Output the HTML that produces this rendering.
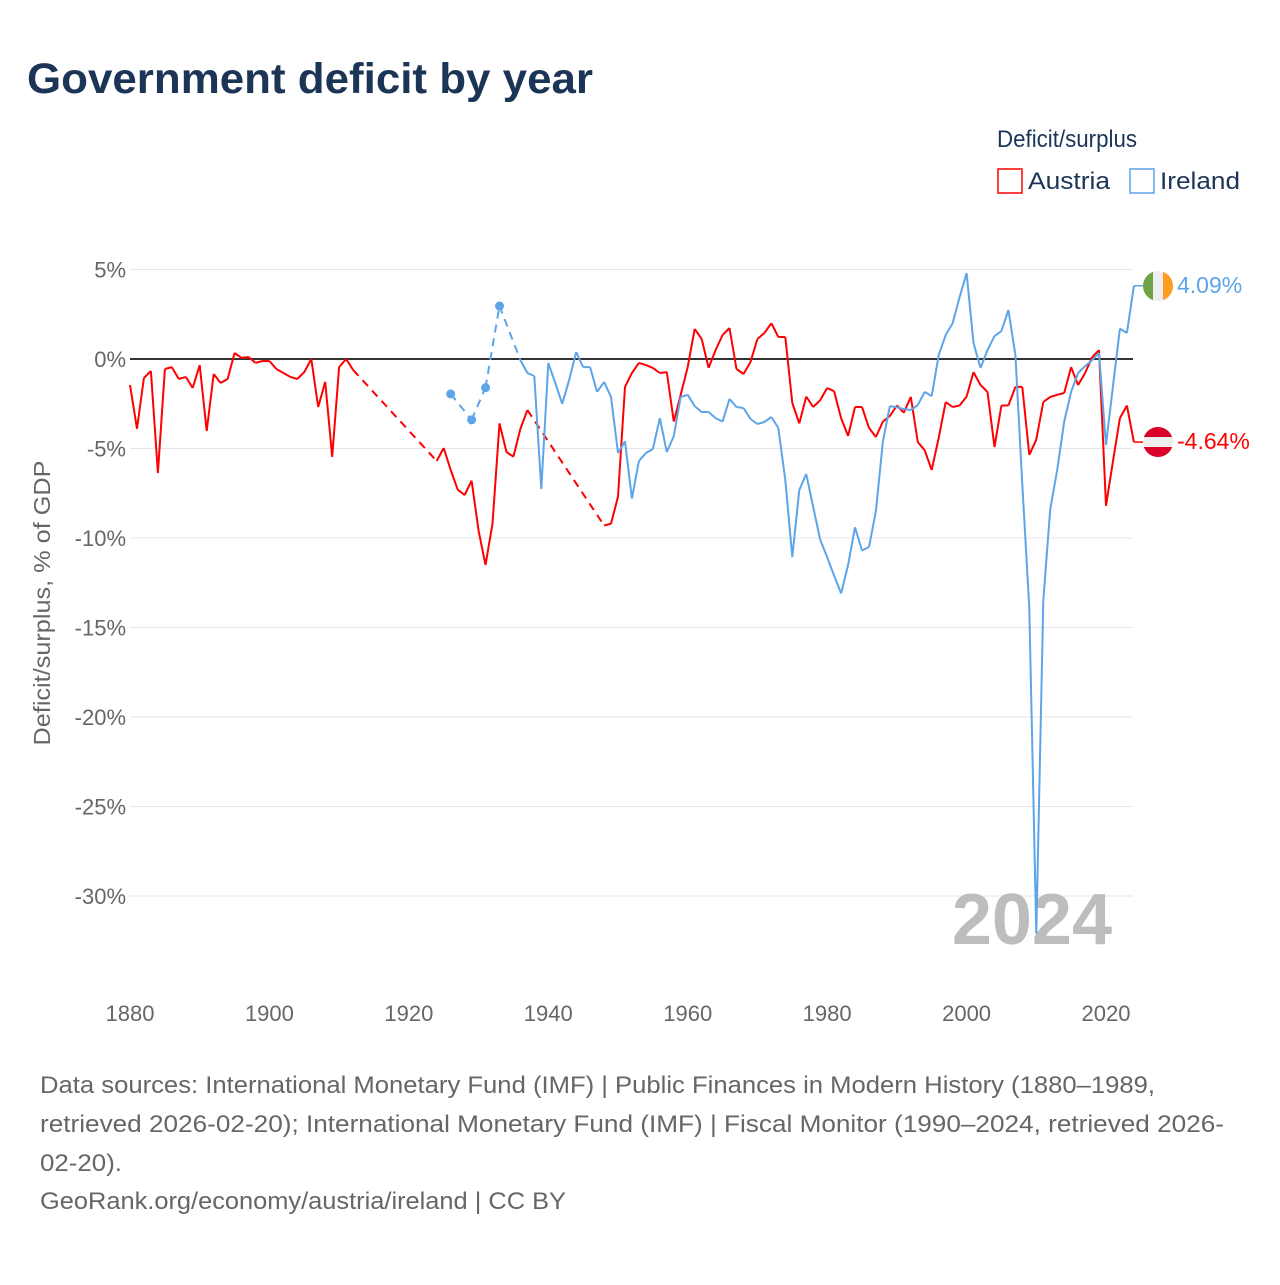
<!DOCTYPE html>
<html><head><meta charset="utf-8"><style>
body{margin:0;background:#fff;width:1280px;height:1280px;overflow:hidden;font-family:"Liberation Sans",sans-serif}
svg text{font-family:"Liberation Sans",sans-serif}
</style></head><body>
<svg id="chart" width="1280" height="1280" viewBox="0 0 1280 1280">
<text x="27" y="93" font-size="43" font-weight="bold" fill="#1c3557" textLength="566" lengthAdjust="spacingAndGlyphs">Government deficit by year</text>
<text x="997" y="147" font-size="24" fill="#1c3557" textLength="140" lengthAdjust="spacingAndGlyphs">Deficit/surplus</text>
<g><rect x="998" y="169" width="24" height="24" fill="#fff" stroke="#ff0000" stroke-width="1.5"/><text x="1028" y="189" font-size="24" fill="#1c3557" textLength="82" lengthAdjust="spacingAndGlyphs">Austria</text></g>
<g><rect x="1130" y="169" width="24" height="24" fill="#fff" stroke="#5ea4e8" stroke-width="1.5"/><text x="1160" y="189" font-size="24" fill="#1c3557" textLength="80" lengthAdjust="spacingAndGlyphs">Ireland</text></g>
<g id="grid"></g>
<text x="1112" y="944" font-size="72" font-weight="bold" fill="#bdbdbd" text-anchor="end">2024</text>
<g id="series"></g>
<text transform="translate(50,603) rotate(-90)" font-size="23" fill="#666" text-anchor="middle" textLength="285" lengthAdjust="spacingAndGlyphs">Deficit/surplus, % of GDP</text>
<g>
<clipPath id="cie"><circle cx="1158" cy="286" r="15"/></clipPath>
<g clip-path="url(#cie)"><rect x="1143" y="271" width="10" height="30" fill="#6ea447"/><rect x="1153" y="271" width="10" height="30" fill="#eee"/><rect x="1163" y="271" width="10" height="30" fill="#ff9b21"/></g></g>
<g>
<clipPath id="cat"><circle cx="1158" cy="442" r="15"/></clipPath>
<g clip-path="url(#cat)"><rect x="1143" y="427" width="30" height="10" fill="#d9002a"/><rect x="1143" y="437" width="30" height="10" fill="#eee"/><rect x="1143" y="447" width="30" height="10" fill="#d9002a"/></g></g>
<text x="1177" y="293" font-size="23" fill="#5ea4e8">4.09%</text>
<text x="1177" y="449" font-size="23" fill="#ff0000">-4.64%</text>
<g font-size="24" fill="#666">
<text x="40" y="1093" textLength="1115" lengthAdjust="spacingAndGlyphs">Data sources: International Monetary Fund (IMF) | Public Finances in Modern History (1880–1989,</text>
<text x="40" y="1132" textLength="1184" lengthAdjust="spacingAndGlyphs">retrieved 2026-02-20); International Monetary Fund (IMF) | Fiscal Monitor (1990–2024, retrieved 2026-</text>
<text x="40" y="1171" textLength="82" lengthAdjust="spacingAndGlyphs">02-20).</text>
<text x="40" y="1209" textLength="526" lengthAdjust="spacingAndGlyphs">GeoRank.org/economy/austria/ireland | CC BY</text>
</g>
</svg>
<script>
const yTicks=[5,0,-5,-10,-15,-20,-25,-30];
const xTicks=[1880,1900,1920,1940,1960,1980,2000,2020];
const austriaYears=[1880,1881,1882,1883,1884,1885,1886,1887,1888,1889,1890,1891,1892,1893,1894,1895,1896,1897,1898,1899,1900,1901,1902,1903,1904,1905,1906,1907,1908,1909,1910,1911,1912,
1924,1925,1926,1927,1928,1929,1930,1931,1932,1933,1934,1935,1936,1937,
1948,1949,1950,1951,1952,1953,1954,1955,1956,1957,1958,1959,1960,1961,1962,1963,1964,1965,1966,1967,1968,1969,1970,1971,1972,1973,1974,1975,1976,1977,1978,1979,1980,1981,1982,1983,1984,1985,1986,1987,1988,1989,1990,1991,1992,1993,1994,1995,1996,1997,1998,1999,2000,2001,2002,2003,2004,2005,2006,2007,2008,2009,2010,2011,2012,2013,2014,2015,2016,2017,2018,2019,2020,2021,2022,2023,2024];
const austriaValues=[-1.45,-3.9,-1.06,-0.67,-6.37,-0.56,-0.45,-1.12,-1.0,-1.62,-0.34,-4.02,-0.84,-1.34,-1.12,0.34,0.06,0.11,-0.22,-0.11,-0.11,-0.56,-0.78,-1.0,-1.12,-0.73,0,-2.68,-1.28,-5.47,-0.45,0,-0.61,
-5.7,-4.97,-6.2,-7.3,-7.6,-6.8,-9.6,-11.5,-9.2,-3.6,-5.2,-5.45,-3.9,-2.85,
-9.3,-9.2,-7.7,-1.56,-0.78,-0.22,-0.34,-0.5,-0.78,-0.73,-3.5,-2.0,-0.45,1.68,1.12,-0.5,0.5,1.34,1.73,-0.56,-0.84,-0.17,1.12,1.45,2.0,1.23,1.23,-2.46,-3.6,-2.1,-2.68,-2.3,-1.62,-1.8,-3.3,-4.3,-2.68,-2.68,-3.85,-4.36,-3.5,-3.18,-2.6,-3.0,-2.12,-4.64,-5.1,-6.2,-4.4,-2.4,-2.68,-2.6,-2.1,-0.73,-1.45,-1.84,-4.92,-2.6,-2.6,-1.56,-1.56,-5.36,-4.5,-2.4,-2.12,-2.0,-1.9,-0.45,-1.45,-0.78,0.1,0.5,-8.2,-5.7,-3.3,-2.6,-4.64];
const irelandYears=[1926,1929,1931,1933,1936,1937,1938,1939,1940,1941,1942,1943,1944,1945,1946,1947,1948,1949,1950,1951,1952,1953,1954,1955,1956,1957,1958,1959,1960,1961,1962,1963,1964,1965,1966,1967,1968,1969,1970,1971,1972,1973,1974,1975,1976,1977,1978,1979,1980,1981,1982,1983,1984,1985,1986,1987,1988,1989,1990,1991,1992,1993,1994,1995,1996,1997,1998,1999,2000,2001,2002,2003,2004,2005,2006,2007,2008,2009,2010,2011,2012,2013,2014,2015,2016,2017,2018,2019,2020,2021,2022,2023,2024];
const irelandValues=[-1.95,-3.4,-1.6,2.96,-0.06,-0.78,-0.95,-7.26,-0.22,-1.34,-2.5,-1.17,0.39,-0.45,-0.45,-1.84,-1.28,-2.12,-5.25,-4.6,-7.8,-5.7,-5.25,-5.03,-3.3,-5.2,-4.3,-2.12,-2.0,-2.63,-2.96,-2.96,-3.3,-3.5,-2.23,-2.68,-2.74,-3.35,-3.63,-3.52,-3.24,-3.85,-6.76,-11.06,-7.32,-6.42,-8.27,-10.1,-11.06,-12.1,-13.1,-11.5,-9.4,-10.7,-10.5,-8.5,-4.6,-2.63,-2.7,-2.8,-2.85,-2.57,-1.84,-2.07,0.22,1.34,2.0,3.46,4.8,0.9,-0.5,0.5,1.28,1.56,2.74,0.22,-7.0,-13.9,-32.1,-13.5,-8.4,-6.2,-3.5,-1.84,-0.78,-0.4,-0.06,0.34,-4.8,-1.5,1.7,1.45,4.09];

const NS="http://www.w3.org/2000/svg";
const X0=130,X1=1133,Y0=359,PXV=17.9;
function xs(yr){return X0+(yr-1880)*(1106-130)/140;}
function ys(v){return Y0-v*PXV;}
function mk(tag,attrs,parent){const e=document.createElementNS(NS,tag);for(const k in attrs)e.setAttribute(k,attrs[k]);parent.appendChild(e);return e;}
const grid=document.getElementById('grid');
yTicks.forEach(t=>{
  const l=mk('line',{x1:X0,x2:X1,y1:ys(t),y2:ys(t),stroke:t===0?'#333':'#e6e6e6','stroke-width':t===0?2:1},grid);
  
  
  const tx=mk('text',{x:126,y:ys(t)+8,'font-size':22,fill:'#666','text-anchor':'end'},grid);
  tx.textContent=t+'%';
  
  
});
xTicks.forEach(t=>{
  const tx=mk('text',{x:xs(t),y:1021,'font-size':22,fill:'#666','text-anchor':'middle'},grid);
  tx.textContent=t;
  
  
});
const series=document.getElementById('series');
function drawSeries(years,vals,color,name){
  const g=mk('g',{},series);
  
  
  let solid='',dash='';
  for(let i=0;i<years.length;i++){
    const p=xs(years[i]).toFixed(1)+','+ys(vals[i]).toFixed(1);
    if(i>0){
      const q=xs(years[i-1]).toFixed(1)+','+ys(vals[i-1]).toFixed(1);
      if(years[i]-years[i-1]===1) solid+='M'+q+'L'+p;
      else dash+='M'+q+'L'+p;
    }
    const prevAdj=i>0&&years[i]-years[i-1]===1, nextAdj=i<years.length-1&&years[i+1]-years[i]===1;
    if(!prevAdj&&!nextAdj){
      const c=mk('circle',{cx:xs(years[i]),cy:ys(vals[i]),r:4.5,fill:color},g);
      
      
    }
  }
  const d=mk('path',{d:dash,fill:'none',stroke:color,'stroke-width':2,'stroke-dasharray':'8,6'},g);
  
  
  const s=mk('path',{d:solid,fill:'none',stroke:color,'stroke-width':2,'stroke-linejoin':'round'},g);
  
  
  const n=years.length-1;
  const e=mk('line',{x1:xs(years[n]),x2:1143,y1:ys(vals[n]),y2:ys(vals[n]),stroke:color,'stroke-width':1.5},g);
  
  
}
drawSeries(austriaYears,austriaValues,'#ff0000','austria');
drawSeries(irelandYears,irelandValues,'#5ea4e8','ireland');
</script>
</body></html>
